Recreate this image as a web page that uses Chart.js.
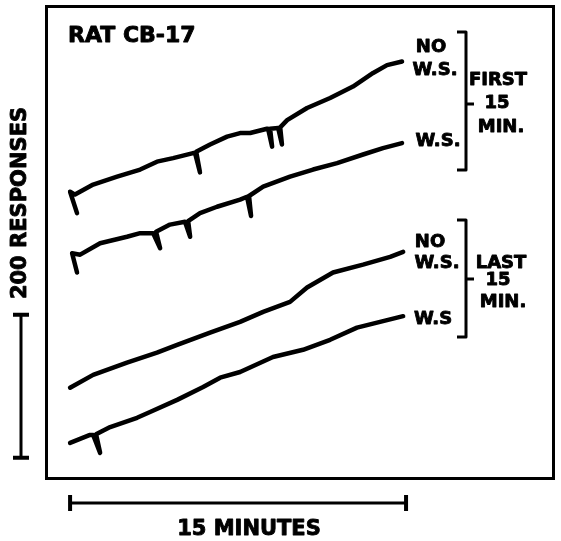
<!DOCTYPE html>
<html>
<head>
<meta charset="utf-8">
<script src="https://cdn.jsdelivr.net/npm/chart.js@4"></script>
<style>
  body { margin: 0; background: #fff; }
  #wrap { width: 561px; height: 541px; position: relative; }
</style>
</head>
<body>
<div id="wrap"><canvas id="chartRat"></canvas></div>
<script>
// Registro cumulativo (minutos, respostas acumuladas)
var title = 'RAT CB-17';
var seriesNames = ['NO W.S. (first 15 min)', 'W.S. (first 15 min)', 'NO W.S. (last 15 min)', 'W.S. (last 15 min)'];

// primeira sessao, sem W.S.
var noWsFirst = [
  [0.31, 373], [0, 403], [0.22, 399], [1.03, 413], [2.10, 424], [3.13, 434],
  [3.88, 445], [4.60, 450], [5.49, 457], [5.58, 457], [5.80, 430], [5.63, 459],
  [6.25, 469], [7.01, 480], [7.59, 485], [8.04, 485], [8.79, 491],
  [8.84, 491], [9.02, 466], [8.93, 491], [9.29, 492], [9.46, 469], [9.38, 493],
  [9.69, 503], [10.58, 520], [11.61, 534], [12.63, 550], [13.53, 569],
  [14.15, 580], [14.82, 585]
];

// primeira sessao, com W.S.
var wsFirst = [
  [0.31, 290], [0.09, 317], [0.45, 315], [1.34, 331], [2.54, 340], [3.13, 345],
  [3.71, 345], [4.02, 324], [3.84, 347], [4.46, 357], [5.13, 361], [5.36, 340],
  [5.27, 362], [5.80, 373], [6.56, 382], [7.59, 392], [7.90, 396], [8.08, 369],
  [7.99, 397], [8.62, 410], [9.82, 424], [10.85, 434], [11.92, 443],
  [13.08, 455], [13.97, 464], [14.82, 471]
];

// ultima sessao, sem W.S.
var noWsLast = [
  [0, 129], [1.03, 147], [2.54, 164], [3.88, 178], [4.78, 189], [6.25, 206],
  [7.59, 221], [8.62, 235], [9.82, 249], [10.58, 269], [11.74, 290],
  [13.08, 301], [14.29, 312], [14.87, 319]
];

// ultima sessao, com W.S.
var wsLast = [
  [0, 52], [0.89, 63], [1.03, 63], [1.34, 38], [1.16, 64], [1.79, 74],
  [2.99, 87], [3.57, 95], [4.78, 112], [5.94, 130], [6.70, 143], [7.59, 151],
  [9.06, 172], [10.40, 182], [11.61, 196], [12.81, 213], [13.84, 221],
  [14.87, 229]
];

// barras de escala
var scaleMinutes = 15;
var scaleResponses = 200;
var scaleResponsesStart = 31;

function toPoints(arr) {
  return arr.map(function (p) { return { x: p[0], y: p[1] }; });
}

var allSeries = [noWsFirst, wsFirst, noWsLast, wsLast];

var fonte = '"DejaVu Sans", "Liberation Sans", sans-serif';

// texto com traco extra para ficar mais pesado, como o letreiro original
function textoForte(ctx, txt, x, y) {
  ctx.fillText(txt, x, y);
  ctx.strokeText(txt, x, y);
}

// Plugin que desenha moldura, barras de escala e rotulos
var decoracao = {
  id: 'decoracao',
  afterDraw: function (chart) {
    var ctx = chart.ctx;
    var a = chart.chartArea;
    var xs = chart.scales.x;
    var ys = chart.scales.y;
    ctx.save();
    ctx.strokeStyle = '#000';
    ctx.fillStyle = '#000';
    ctx.lineCap = 'butt';

    // moldura
    ctx.lineWidth = 3;
    ctx.strokeRect(a.left + 1.5, a.top + 1.5, a.right - a.left - 3, a.bottom - a.top - 3);

    // barra horizontal de 15 minutos
    var x0 = xs.getPixelForValue(0);
    var x1 = xs.getPixelForValue(scaleMinutes);
    var yb = a.bottom + 23;
    ctx.lineWidth = 3;
    ctx.beginPath();
    ctx.moveTo(x0, yb); ctx.lineTo(x1, yb);
    ctx.stroke();
    ctx.lineWidth = 4;
    ctx.beginPath();
    ctx.moveTo(x0, yb - 8); ctx.lineTo(x0, yb + 8);
    ctx.moveTo(x1, yb - 8); ctx.lineTo(x1, yb + 8);
    ctx.stroke();

    // barra vertical de 200 respostas
    var y0 = ys.getPixelForValue(scaleResponsesStart);
    var y1 = ys.getPixelForValue(scaleResponsesStart + scaleResponses);
    var xb = 21;
    ctx.lineWidth = 3;
    ctx.beginPath();
    ctx.moveTo(xb, y0); ctx.lineTo(xb, y1);
    ctx.stroke();
    ctx.lineWidth = 4;
    ctx.beginPath();
    ctx.moveTo(xb - 8, y0); ctx.lineTo(xb + 8, y0);
    ctx.moveTo(xb - 8, y1); ctx.lineTo(xb + 8, y1);
    ctx.stroke();

    // textos
    ctx.lineWidth = 0.9;
    ctx.lineJoin = 'round';
    ctx.textBaseline = 'middle';
    ctx.font = 'bold 22px ' + fonte;
    ctx.textAlign = 'left';
    textoForte(ctx, title, 68, 36);

    ctx.font = 'bold 21px ' + fonte;
    ctx.textAlign = 'center';
    textoForte(ctx, '15 MINUTES', 249, a.bottom + 50);

    ctx.save();
    ctx.translate(21, 203);
    ctx.rotate(-Math.PI / 2);
    textoForte(ctx, '200 RESPONSES', 0, 0);
    ctx.restore();

    ctx.font = 'bold 18px ' + fonte;
    textoForte(ctx, 'NO', 431, 47);
    textoForte(ctx, 'W.S.', 435, 70);
    textoForte(ctx, 'W.S.', 438, 141);
    textoForte(ctx, 'FIRST', 498, 80);
    textoForte(ctx, '15', 497, 103);
    textoForte(ctx, 'MIN.', 501, 127);

    textoForte(ctx, 'NO', 430, 242);
    textoForte(ctx, 'W.S.', 437, 263);
    textoForte(ctx, 'W.S', 433, 319);
    textoForte(ctx, 'LAST', 501, 263);
    textoForte(ctx, '15', 498, 280);
    textoForte(ctx, 'MIN.', 503, 302);

    // colchetes
    ctx.lineWidth = 3;
    function colchete(top, bottom, mid) {
      ctx.beginPath();
      ctx.moveTo(457, top); ctx.lineTo(466, top); ctx.lineTo(466, bottom); ctx.lineTo(457, bottom);
      ctx.moveTo(466, mid); ctx.lineTo(474, mid);
      ctx.stroke();
    }
    colchete(32, 170, 104);
    colchete(220, 337, 279);

    ctx.restore();
  }
};

var ctxRat = document.getElementById('chartRat').getContext('2d');
var chartRat = new Chart(ctxRat, {
  type: 'scatter',
  data: {
    datasets: allSeries.map(function (s, i) {
      return {
        label: seriesNames[i],
        data: toPoints(s),
        showLine: true,
        borderColor: '#000',
        borderWidth: 4.5,
        borderCapStyle: 'round',
        borderJoinStyle: 'round',
        pointRadius: 0,
        tension: 0
      };
    })
  },
  options: {
    responsive: true,
    maintainAspectRatio: false,
    animation: false,
    layout: { padding: { left: 45, top: 5, right: 6, bottom: 61 } },
    plugins: { legend: { display: false }, tooltip: { enabled: false } },
    scales: {
      x: { type: 'linear', min: -1.12, max: 21.65, display: false },
      y: { type: 'linear', min: 0, max: 664, display: false }
    }
  },
  plugins: [decoracao]
});
</script>
</body>
</html>
